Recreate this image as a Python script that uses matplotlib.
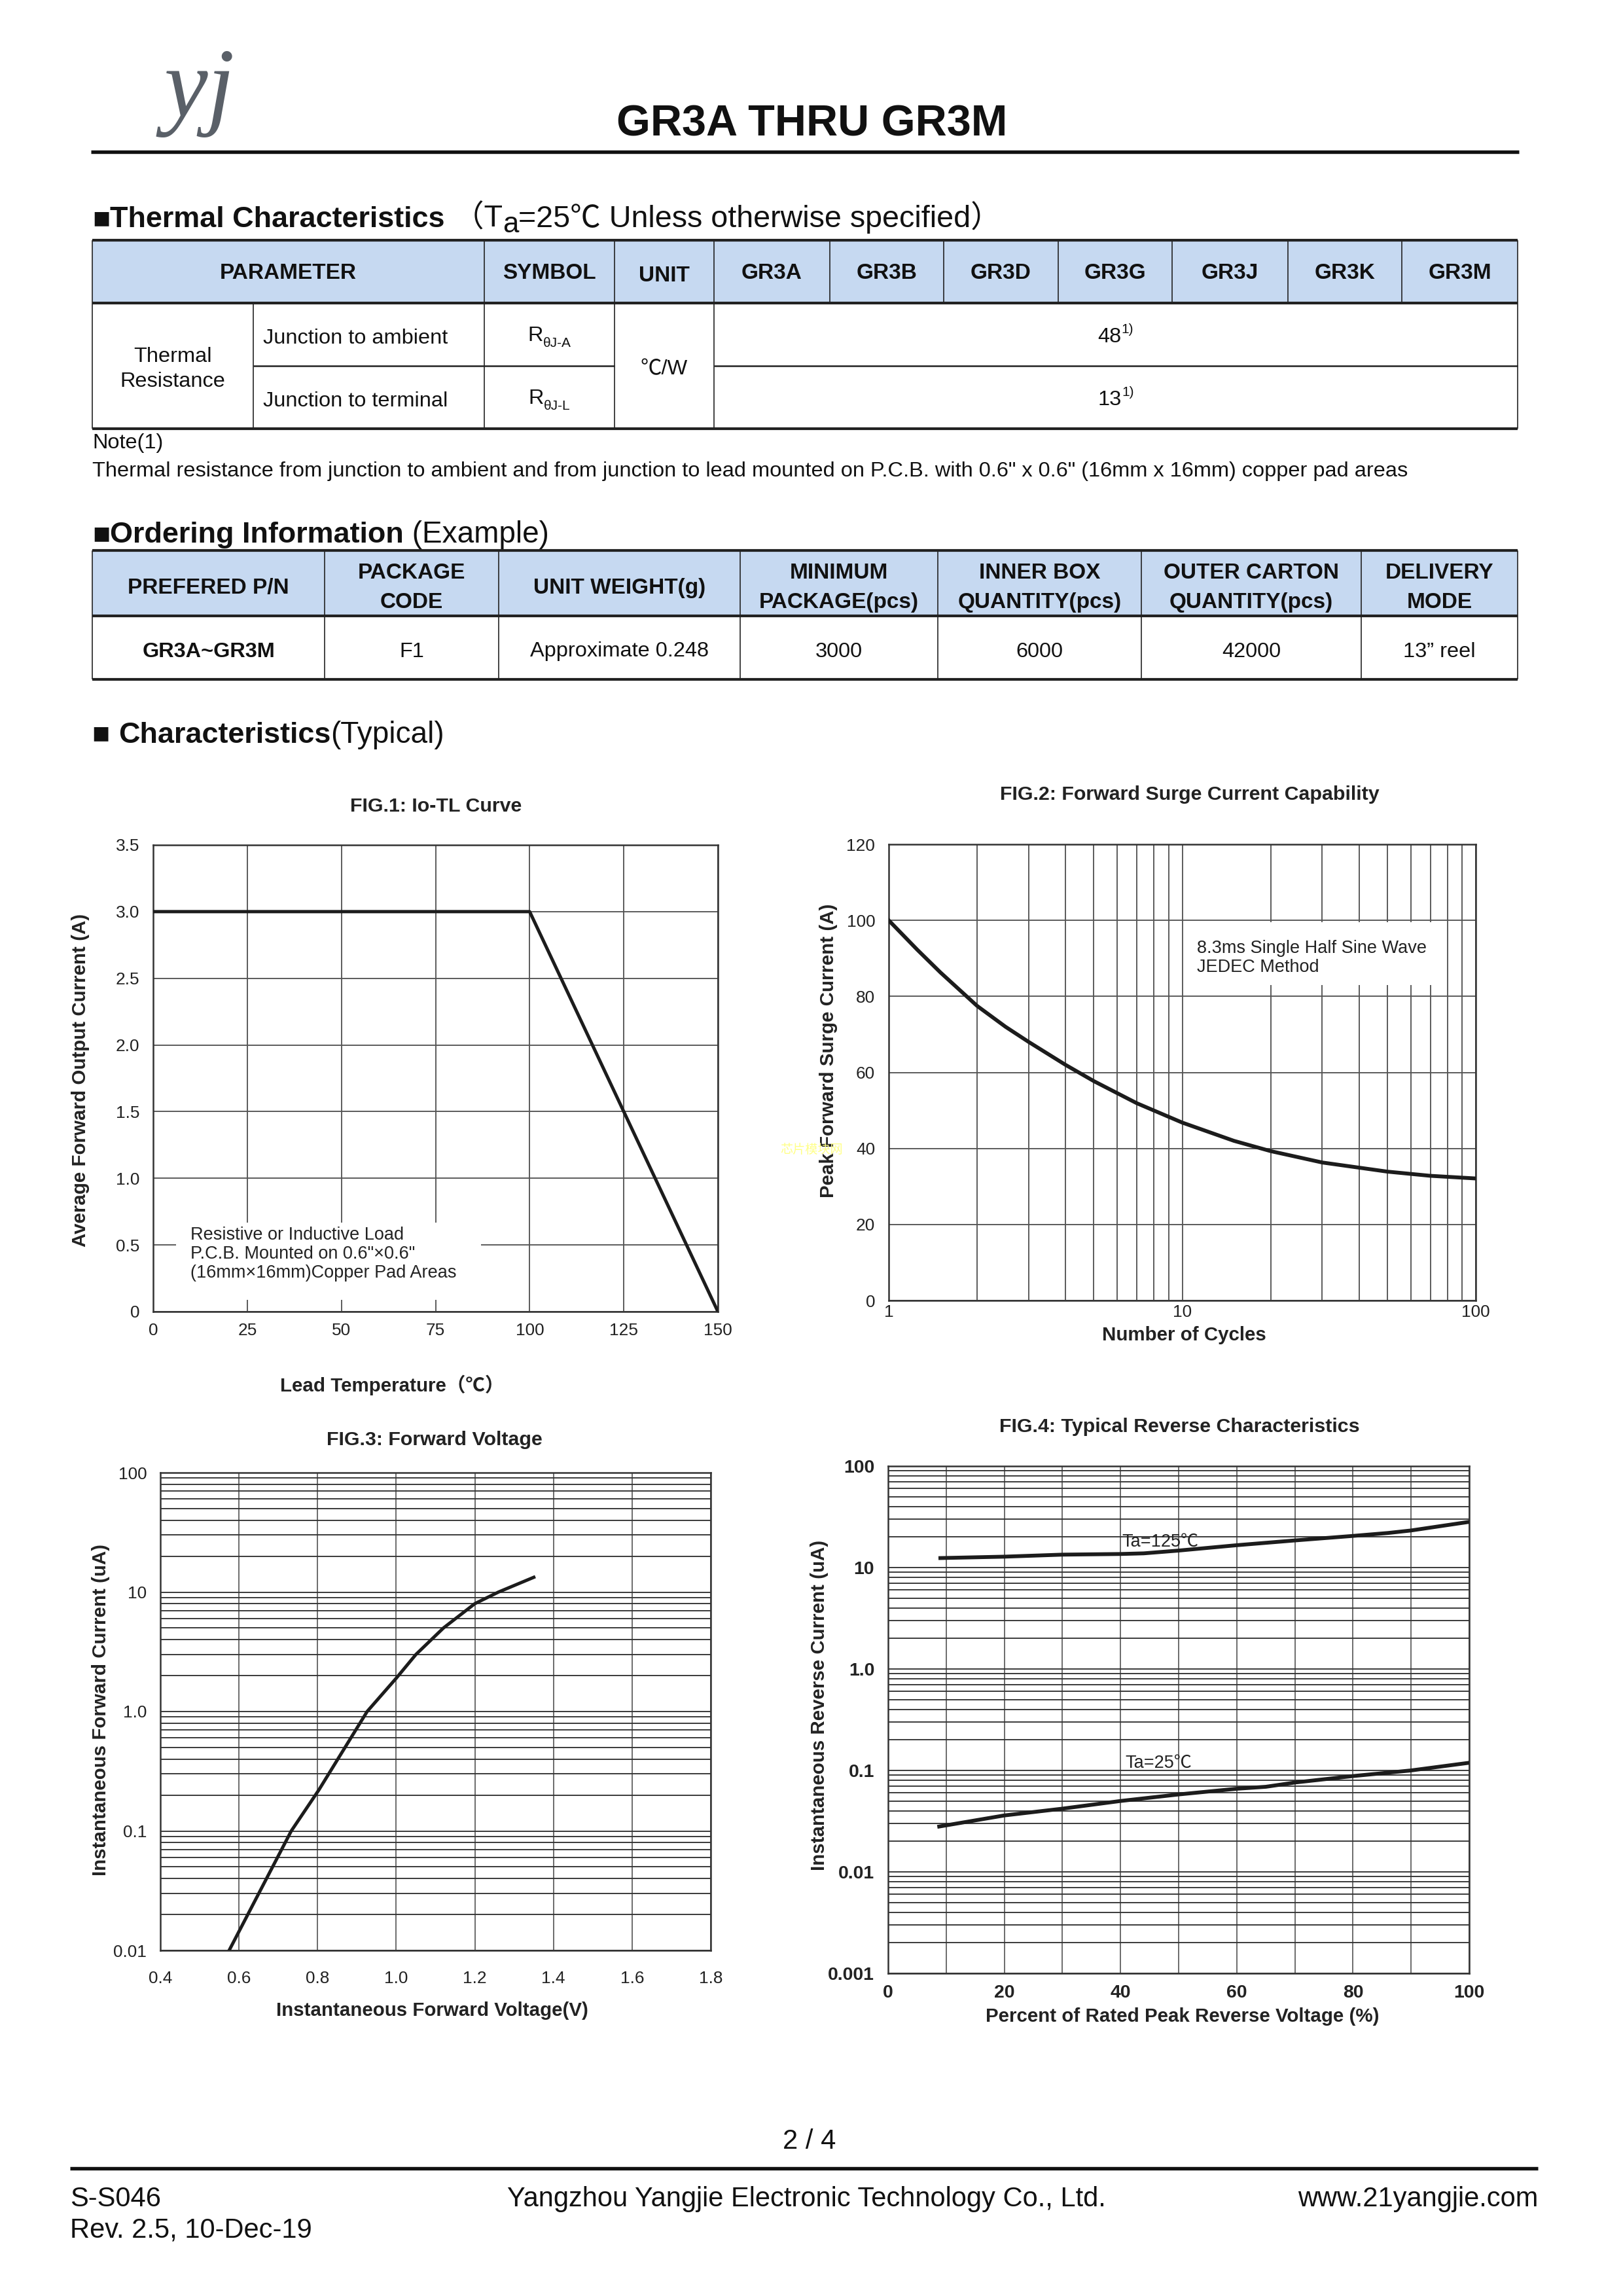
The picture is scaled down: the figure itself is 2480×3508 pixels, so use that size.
import matplotlib
matplotlib.use('Agg')
import matplotlib.pyplot as plt
from matplotlib.patches import Rectangle
from matplotlib.ticker import LogLocator, NullFormatter, FixedLocator

plt.rcParams['font.family'] = ['Liberation Sans', 'Noto Sans CJK SC', 'DejaVu Sans']

# ---------------- data ----------------
thermal_models = ['GR3A', 'GR3B', 'GR3D', 'GR3G', 'GR3J', 'GR3K', 'GR3M']
thermal_headers = ['PARAMETER', 'SYMBOL', 'UNIT']
thermal_rows = ['Junction to ambient', 'Junction to terminal']
thermal_symbol_subs = ['θJ-A', 'θJ-L']
thermal_values = ['48', '13']

order_headers = ['PREFERED P/N', 'PACKAGE\nCODE', 'UNIT WEIGHT(g)', 'MINIMUM\nPACKAGE(pcs)',
                 'INNER BOX\nQUANTITY(pcs)', 'OUTER CARTON\nQUANTITY(pcs)', 'DELIVERY\nMODE']
order_values = ['GR3A~GR3M', 'F1', 'Approximate 0.248', '3000', '6000', '42000', '13\u201d reel']

fig1_temp = [0, 100, 150]
fig1_current = [3.0, 3.0, 0.0]
fig1_xticks = [0, 25, 50, 75, 100, 125, 150]
fig1_yticks = [0, 0.5, 1.0, 1.5, 2.0, 2.5, 3.0, 3.5]
fig1_yticklabels = ['0', '0.5', '1.0', '1.5', '2.0', '2.5', '3.0', '3.5']

fig2_cycles = [1, 1.25, 1.5, 2, 2.5, 3, 4, 5, 7, 10, 15, 20, 30, 50, 70, 100]
fig2_current = [100, 92.3, 86.3, 77.5, 72.0, 68.0, 62.0, 57.7, 51.9, 46.8, 42.0, 39.3,
                36.3, 33.9, 32.8, 32.1]
fig2_yticks = [0, 20, 40, 60, 80, 100, 120]
fig2_xticks = [1, 10, 100]
fig2_xticklabels = ['1', '10', '100']

fig3_voltage = [0.575, 0.733, 0.803, 0.926, 1.0, 1.05, 1.12, 1.2, 1.26, 1.35]
fig3_current = [0.01, 0.1, 0.22, 1.0, 1.9, 3.0, 5.0, 8.0, 10.0, 13.3]
fig3_xticks = [0.4, 0.6, 0.8, 1.0, 1.2, 1.4, 1.6, 1.8]
fig3_yticks = [0.01, 0.1, 1, 10, 100]
fig3_yticklabels = ['0.01', '0.1', '1.0', '10', '100']

fig4_pct_125 = [9, 20, 30, 40, 44, 50, 60, 70, 80, 86, 90, 100]
fig4_i_125 = [12.4, 12.8, 13.4, 13.6, 13.8, 14.7, 16.6, 18.5, 20.5, 21.9, 23.2, 28.2]
fig4_pct_25 = [8.8, 20, 30, 40, 50, 60, 65, 70, 80, 90, 100]
fig4_i_25 = [0.028, 0.036, 0.042, 0.050, 0.058, 0.066, 0.069, 0.076, 0.088, 0.100, 0.119]
fig4_xticks = [0, 20, 40, 60, 80, 100]
fig4_yticks = [0.001, 0.01, 0.1, 1, 10, 100]
fig4_yticklabels = ['0.001', '0.01', '0.1', '1.0', '10', '100']

# ---------------- page ----------------
W, H = 2480, 3508
DPI = 300
fig = plt.figure(figsize=(W / DPI, H / DPI), dpi=DPI)
ax0 = fig.add_axes([0, 0, 1, 1])
ax0.set_xlim(0, W)
ax0.set_ylim(H, 0)
ax0.axis('off')
renderer = fig.canvas.get_renderer()

INK = '#111111'


def txt(x, y, s, size=7.8, weight='normal', ha='center', va='center', **kw):
    kw.setdefault('color', INK)
    return ax0.text(x, y, s, fontsize=size, fontweight=weight, ha=ha, va=va, **kw)


def seq(x, y, parts, align='left'):
    """parts: (string, size, weight, dy). baseline aligned sequence."""
    items = []
    cx = x
    for s, size, weight, dy in parts:
        t = ax0.text(cx, y + dy, s, fontsize=size, fontweight=weight, ha='left',
                     va='baseline', color=INK)
        w = t.get_window_extent(renderer=renderer).width
        items.append(t)
        cx += w
    total = cx - x
    if align == 'center':
        for t in items:
            t.set_x(t.get_position()[0] - total / 2)
    return items


def hline(x0, x1, y, lw=0.4, color='#222222'):
    ax0.plot([x0, x1], [y, y], color=color, lw=lw, solid_capstyle='butt')


def vline(x, y0, y1, lw=0.4, color='#222222'):
    ax0.plot([x, x], [y0, y1], color=color, lw=lw, solid_capstyle='butt')


# logo
ax0.text(305, 142, 'yj', fontsize=36, family='Liberation Serif', style='italic',
         color='#5a6068', ha='center', va='center')

# title and header rule
txt(1241, 190, 'GR3A THRU GR3M', size=16, weight='bold')
hline(139, 2321, 232, lw=1.3, color='#111111')

# ---------------- thermal characteristics ----------------
seq(141, 347, [('■', 10.8, 'bold', 0), ('Thermal Characteristics', 10.8, 'bold', 0),
               (' （T', 11.2, 'normal', 0), ('a', 10.5, 'normal', 8),
               ('=25℃ Unless otherwise specified）', 11.2, 'normal', 0)])

tx = [141, 387, 740, 939, 1091, 1268, 1442, 1617, 1791, 1968, 2142, 2319]
ty = [367, 463, 559, 655]
ax0.add_patch(Rectangle((tx[0], ty[0]), tx[-1] - tx[0], ty[1] - ty[0],
                        facecolor='#c6d9f1', edgecolor='none'))
hline(tx[0], tx[-1], ty[0], lw=1.0)
hline(tx[0], tx[-1], ty[1], lw=1.0)
hline(tx[0], tx[-1], ty[3], lw=1.0)
hline(tx[1], tx[3], ty[2], lw=0.6)
hline(tx[4], tx[-1], ty[2], lw=0.6)
for x in [tx[0], tx[2], tx[3], tx[4], tx[-1]]:
    vline(x, ty[0], ty[3])
vline(tx[1], ty[1], ty[3])
for x in tx[5:-1]:
    vline(x, ty[0], ty[1])

hy = (ty[0] + ty[1]) / 2 + 2
txt((tx[0] + tx[2]) / 2, hy, thermal_headers[0], size=8, weight='bold')
txt((tx[2] + tx[3]) / 2, hy, thermal_headers[1], size=8, weight='bold')
txt((tx[3] + tx[4]) / 2, hy + 5, thermal_headers[2], size=8, weight='bold')
for i, m in enumerate(thermal_models):
    txt((tx[4 + i] + tx[5 + i]) / 2, hy, m, size=8, weight='bold')

txt((tx[0] + tx[1]) / 2, ty[2] + 5, 'Thermal\nResistance', size=7.8, linespacing=1.35)
txt((tx[3] + tx[4]) / 2, ty[2] + 5, '℃/W', size=7.8)
for r in range(2):
    cy = (ty[1 + r] + ty[2 + r]) / 2 + 6
    txt(tx[1] + 15, cy, thermal_rows[r], size=7.8, ha='left')
    seq((tx[2] + tx[3]) / 2, cy + 4, [('R', 7.8, 'normal', 0),
                                      (thermal_symbol_subs[r], 5.0, 'normal', 9)], align='center')
    seq((tx[4] + tx[-1]) / 2, cy + 6, [(thermal_values[r], 7.8, 'normal', 0),
                                       ('1)', 5.0, 'normal', -14)], align='center')

txt(141, 677, 'Note(1)', size=7.8, ha='left')
txt(141, 720, 'Thermal resistance from junction to ambient and from junction to lead mounted on P.C.B. '
    'with 0.6" x 0.6" (16mm x 16mm) copper pad areas', size=7.8, ha='left')

# ---------------- ordering information ----------------
seq(141, 829, [('■', 10.8, 'bold', 0), ('Ordering Information', 10.8, 'bold', 0),
               (' (Example)', 11.0, 'normal', 0)])
ox = [141, 496, 762, 1131, 1433, 1744, 2080, 2319]
oy = [841, 941, 1038]
ax0.add_patch(Rectangle((ox[0], oy[0]), ox[-1] - ox[0], oy[1] - oy[0],
                        facecolor='#c6d9f1', edgecolor='none'))
hline(ox[0], ox[-1], oy[0], lw=1.0)
hline(ox[0], ox[-1], oy[1], lw=1.0)
hline(ox[0], ox[-1], oy[2], lw=1.0)
for x in ox:
    vline(x, oy[0], oy[2])
for i in range(7):
    cx = (ox[i] + ox[i + 1]) / 2
    txt(cx, (oy[0] + oy[1]) / 2 + 7, order_headers[i], size=8, weight='bold', linespacing=1.55)
    txt(cx, (oy[1] + oy[2]) / 2 + 6, order_values[i], size=7.8,
        weight='bold' if i == 0 else 'normal')

# ---------------- characteristics ----------------
seq(141, 1135, [('■ ', 10.8, 'bold', 0), ('Characteristics', 10.8, 'bold', 0),
                ('(Typical)', 11.0, 'normal', 0)])


def add_ax(l, t, r, b):
    return fig.add_axes([l / W, 1 - b / H, (r - l) / W, (b - t) / H])


def style(ax, size=6.3, bold=False, xpad=5, ypad=5):
    for s in ax.spines.values():
        s.set_color('#333333')
        s.set_linewidth(0.6)
    ax.tick_params(which='both', length=0, labelsize=size, labelcolor='#222222')
    ax.tick_params(axis='x', pad=xpad)
    ax.tick_params(axis='y', pad=ypad)
    ax.set_axisbelow(True)
    if bold:
        for lbl in ax.get_xticklabels() + ax.get_yticklabels():
            lbl.set_fontweight('bold')


CURVE = '#1c1c1c'
TSIZE = 7.3
LSIZE = 7.1

# FIG 1
ax1 = add_ax(234, 1291, 1097, 2004)
ax1.plot(fig1_temp, fig1_current, color=CURVE, lw=1.2, zorder=3)
ax1.set_xlim(0, 150)
ax1.set_ylim(0, 3.5)
ax1.set_xticks(fig1_xticks)
ax1.set_yticks(fig1_yticks, labels=fig1_yticklabels)
ax1.grid(True, color='#555555', lw=0.45)
ax1.add_patch(Rectangle((6, 0.09), 81, 0.58, facecolor='white', edgecolor='none', zorder=1))
ax1.text(9.9, 0.43, 'Resistive or Inductive Load\nP.C.B. Mounted on 0.6"×0.6"\n(16mm×16mm)Copper Pad Areas',
         fontsize=6.5, color='#222222', ha='left', va='center', linespacing=1.15, zorder=4)
style(ax1, xpad=4)
txt(666, 1232, 'FIG.1: Io-TL Curve', size=TSIZE, weight='bold', color='#222222')
txt(123, 1650, 'Average Forward Output Current (A)', size=LSIZE, weight='bold', rotation=90,
    color='#222222')
txt(599, 2116, 'Lead Temperature（℃）', size=LSIZE, weight='bold', color='#222222')

# FIG 2
ax2 = add_ax(1358, 1290, 2255, 1987)
ax2.semilogx(fig2_cycles, fig2_current, color=CURVE, lw=1.4, zorder=3)
ax2.set_xlim(1, 100)
ax2.set_ylim(0, 120)
ax2.set_yticks(fig2_yticks)
ax2.set_xticks(fig2_xticks, labels=fig2_xticklabels)
ax2.xaxis.set_minor_locator(LogLocator(base=10, subs=range(2, 10)))
ax2.xaxis.set_minor_formatter(NullFormatter())
ax2.grid(True, which='both', axis='x', color='#555555', lw=0.45)
ax2.grid(True, which='major', axis='y', color='#555555', lw=0.45)
ax2.add_patch(Rectangle((10.6, 83), 64, 16.5, facecolor='white', edgecolor='none', zorder=1))
ax2.text(11.2, 90.2, '8.3ms Single Half Sine Wave\nJEDEC Method', fontsize=6.5, color='#222222',
         ha='left', va='center', linespacing=1.15, zorder=4)
style(ax2, xpad=1.5)
txt(1818, 1214, 'FIG.2: Forward Surge Current Capability', size=TSIZE, weight='bold', color='#222222')
txt(1266, 1605, 'Peak Forward Surge Current (A)', size=LSIZE, weight='bold', rotation=90,
    color='#222222')
txt(1809, 2040, 'Number of Cycles', size=LSIZE, weight='bold', color='#222222')
txt(1240, 1757, '芯片模块网', size=4.6, color='#ffff88')

# FIG 3
ax3 = add_ax(245, 2250, 1086, 2980)
ax3.semilogy(fig3_voltage, fig3_current, color=CURVE, lw=1.2, zorder=3)
ax3.set_xlim(0.4, 1.8)
ax3.set_ylim(0.01, 100)
ax3.set_xticks(fig3_xticks)
ax3.set_yticks(fig3_yticks, labels=fig3_yticklabels)
ax3.yaxis.set_minor_locator(LogLocator(base=10, subs=range(2, 10)))
ax3.yaxis.set_minor_formatter(NullFormatter())
ax3.grid(True, which='both', axis='y', color='#333333', lw=0.45)
ax3.grid(True, which='major', axis='x', color='#666666', lw=0.45)
style(ax3, xpad=7.5)
txt(664, 2200, 'FIG.3: Forward Voltage', size=TSIZE, weight='bold', color='#222222')
txt(154, 2612, 'Instantaneous Forward Current (uA)', size=LSIZE, weight='bold', rotation=90,
    color='#222222')
txt(660, 3072, 'Instantaneous Forward Voltage(V)', size=LSIZE, weight='bold', color='#222222')

# FIG 4
ax4 = add_ax(1357, 2240, 2245, 3015)
ax4.semilogy(fig4_pct_125, fig4_i_125, color=CURVE, lw=1.4, zorder=3)
ax4.semilogy(fig4_pct_25, fig4_i_25, color=CURVE, lw=1.4, zorder=3)
ax4.set_xlim(0, 100)
ax4.set_ylim(0.001, 100)
ax4.set_xticks(fig4_xticks)
ax4.xaxis.set_minor_locator(FixedLocator([10, 30, 50, 70, 90]))
ax4.set_yticks(fig4_yticks, labels=fig4_yticklabels)
ax4.yaxis.set_minor_locator(LogLocator(base=10, subs=range(2, 10)))
ax4.yaxis.set_minor_formatter(NullFormatter())
ax4.grid(True, which='both', axis='y', color='#333333', lw=0.45)
ax4.grid(True, which='both', axis='x', color='#666666', lw=0.45)
ax4.text(40.3, 17.9, 'Ta=125℃', fontsize=6.5, color='#222222', ha='left', va='center', zorder=4)
ax4.text(40.8, 0.118, 'Ta=25℃', fontsize=6.5, color='#222222', ha='left', va='center', zorder=4)
style(ax4, size=6.8, bold=True, xpad=4)
txt(1802, 2180, 'FIG.4: Typical Reverse Characteristics', size=TSIZE, weight='bold', color='#222222')
txt(1252, 2605, 'Instantaneous Reverse Current (uA)', size=LSIZE, weight='bold', rotation=90,
    color='#222222')
txt(1807, 3081, 'Percent of Rated Peak Reverse Voltage (%)', size=LSIZE, weight='bold', color='#222222')

# ---------------- footer ----------------
txt(1237, 3272, '2 / 4', size=10)
hline(107, 2350, 3313, lw=1.3, color='#111111')
txt(107, 3360, 'S-S046', size=10, ha='left')
txt(107, 3407, 'Rev. 2.5, 10-Dec-19', size=10, ha='left')
txt(1232, 3360, 'Yangzhou Yangjie Electronic Technology Co., Ltd.', size=10)
txt(2350, 3360, 'www.21yangjie.com', size=10, ha='right')

fig.savefig('out.png', dpi=DPI)
